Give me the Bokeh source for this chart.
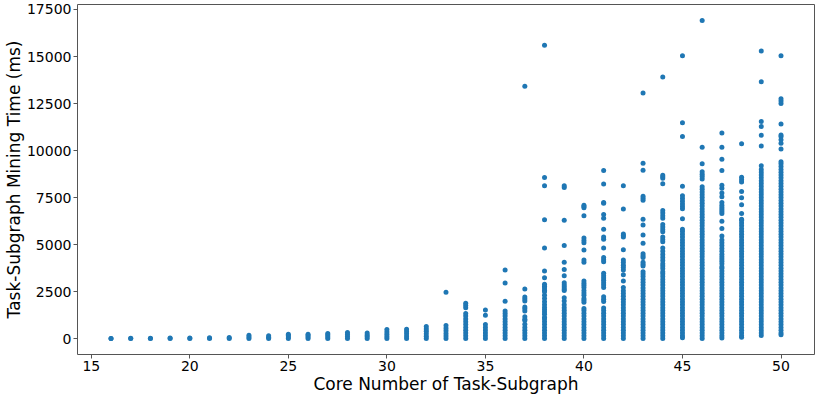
from bokeh.plotting import figure
from bokeh.models import FixedTicker, Range1d, ColumnDataSource
from bokeh.embed import file_html
from bokeh.resources import INLINE

# Task-subgraph mining time (ms) observed per core number
col_16 = [5, 15]
col_17 = [5, 20]
col_18 = [5, 25]
col_19 = [5, 30]
col_20 = [5, 35]
col_21 = [10, 45]
col_22 = [10, 60]
col_23 = [10, 90, 180]
col_24 = [10, 70, 150]
col_25 = [10, 90, 170, 235]
col_26 = [10, 90, 170, 235]
col_27 = [10, 100, 190, 270]
col_28 = [10, 110, 220, 335]
col_29 = [10, 110, 200, 300]
col_30 = [10, 120, 240, 360, 485]
col_31 = [10, 130, 260, 380, 500]
col_32 = [10, 130, 260, 390, 520, 650]
col_33 = [10, 140, 280, 420, 560, 700, 2470]
col_34 = [10, 150, 300, 450, 600, 750, 900, 1050, 1200, 1340, 1640, 1770, 1890]
col_35 = [10, 150, 300, 450, 600, 750, 1240, 1520]
col_36 = [10, 150, 300, 450, 600, 750, 900, 1050, 1200, 1340, 1470, 1990, 2960, 3645]
col_37 = [10, 150, 300, 450, 600, 770, 970, 1035, 1170, 1470, 1590, 1690, 2005,
          2105, 2220, 2640, 13420]
col_38 = [10, 150, 300, 450, 600, 750, 900, 1050, 1135, 1300, 1420, 1540, 1660, 1805,
          1970, 2140, 2305, 2490, 2570, 2690, 2790, 2895, 3245, 3595, 4815, 6320, 8125,
          8575, 15600]
col_39 = [10, 150, 300, 450, 600, 750, 900, 1050, 1200, 1350, 1500, 1650, 1800, 2005,
          2170, 2555, 2640, 2750, 2860, 2975, 3345, 3680, 4060, 4950, 6300, 8040, 8125]
col_40 = [10, 150, 300, 450, 600, 750, 900, 1050, 1200, 1350, 1500, 1600, 1940, 2040,
          2140, 2305, 2430, 2560, 2725, 2840, 2950, 3060, 4060, 4180, 4715, 5100, 5220,
          5350, 6540, 6960, 7030, 7090]
col_41 = [10, 150, 300, 450, 600, 750, 900, 1050, 1200, 1350, 1500, 1635, 1975, 2100,
          2225, 2725, 2850, 2975, 3100, 3225, 3350, 3475, 4095, 4200, 4310, 4815, 5280,
          5400, 5815, 6400, 6600, 7200, 7240, 8225, 8940]
col_42 = [10, 150, 300, 450, 600, 750, 900, 1050, 1200, 1350, 1500, 1650, 1800, 1950,
          2100, 2250, 2400, 2550, 2725, 3060, 3395, 3645, 3780, 3910, 4050, 4180, 4730,
          5400, 5480, 5565, 6890, 8125]
col_43 = [10, 150, 300, 450, 600, 750, 900, 1050, 1200, 1350, 1500, 1650, 1800, 1950,
          2100, 2250, 2400, 2550, 2700, 2850, 3000, 3140, 3310, 3435, 3560, 3860, 3960,
          4060, 4315, 4415, 4515, 5080, 5515, 6050, 6350, 7355, 7460, 7570, 8960, 9330,
          13055]
col_44 = [10, 150, 300, 450, 600, 750, 900, 1050, 1200, 1350, 1500, 1650, 1800, 1950,
          2100, 2250, 2400, 2550, 2700, 2850, 3000, 3150, 3300, 3450, 3560, 3730, 3860,
          3990, 4150, 4315, 4480, 4650, 4815, 5150, 5275, 5400, 5680, 5810, 5940, 6070,
          6400, 6540, 6680, 6820, 8240, 8525, 8610, 8690, 13910]
col_45 = [50, 150, 300, 450, 600, 750, 900, 1050, 1200, 1350, 1500, 1650, 1800, 1950,
          2100, 2250, 2400, 2550, 2700, 2850, 3000, 3150, 3300, 3450, 3600, 3750, 3900,
          4050, 4200, 4350, 4500, 4650, 4800, 4950, 5100, 5250, 5400, 5550, 5700, 5815,
          6370, 6905, 7030, 7160, 7300, 7450, 7600, 8110, 10750, 11485, 15045]
col_46 = [10, 150, 300, 450, 600, 750, 900, 1050, 1200, 1350, 1500, 1650, 1800, 1950,
          2100, 2250, 2400, 2550, 2700, 2850, 3000, 3150, 3300, 3450, 3600, 3750, 3900,
          4050, 4200, 4350, 4500, 4650, 4800, 4950, 5100, 5250, 5400, 5550, 5700, 5850,
          6000, 6150, 6300, 6450, 6600, 6750, 6900, 7050, 7200, 7350, 7500, 7650, 7800,
          7950, 8075, 8490, 8620, 8745, 8875, 9295, 10180, 16920]
col_47 = [30, 150, 300, 450, 600, 750, 900, 1050, 1200, 1350, 1500, 1650, 1800, 1950,
          2100, 2250, 2400, 2550, 2700, 2850, 3000, 3150, 3300, 3450, 3600, 3750, 3820,
          3990, 4120, 4240, 4360, 4490, 4650, 4800, 4950, 5100, 5250, 5455, 5860, 6240,
          6655, 6760, 6870, 6980, 7090, 7240, 7540, 7740, 7995, 8160, 8945, 9545, 10180,
          10930]
col_48 = [80, 150, 300, 450, 600, 750, 900, 1050, 1200, 1350, 1500, 1650, 1800, 1950,
          2100, 2250, 2400, 2550, 2700, 2850, 3000, 3150, 3300, 3450, 3600, 3750, 3900,
          4050, 4200, 4350, 4500, 4650, 4800, 4950, 5100, 5250, 5400, 5550, 5700, 5850,
          6000, 6150, 6300, 6355, 6655, 7125, 7490, 7825, 8330, 8450, 8585, 10360]
col_49 = [165, 300, 450, 600, 750, 900, 1050, 1200, 1350, 1500, 1650, 1800, 1950,
          2100, 2250, 2400, 2550, 2700, 2850, 3000, 3150, 3300, 3450, 3600, 3750, 3900,
          4050, 4200, 4350, 4500, 4650, 4800, 4950, 5100, 5250, 5400, 5550, 5700, 5850,
          6000, 6150, 6300, 6450, 6600, 6750, 6900, 7050, 7200, 7350, 7500, 7650, 7800,
          7950, 8100, 8250, 8400, 8550, 8700, 8850, 9000, 9195, 10245, 10815, 11285,
          11550, 13660, 15295]
col_50 = [215, 300, 450, 600, 750, 900, 1050, 1200, 1350, 1500, 1650, 1800, 1950,
          2100, 2250, 2400, 2550, 2700, 2850, 3000, 3150, 3300, 3450, 3600, 3750, 3900,
          4050, 4200, 4350, 4500, 4650, 4800, 4950, 5100, 5250, 5400, 5550, 5700, 5850,
          6000, 6150, 6300, 6450, 6600, 6750, 6900, 7050, 7200, 7350, 7500, 7650, 7800,
          7950, 8100, 8250, 8400, 8550, 8700, 8850, 9000, 9150, 9300, 9412, 10080, 10390,
          10580, 10745, 10830, 11415, 12500, 12640, 12750, 15045]

core_numbers = list(range(16, 51))
x_ticks = [15, 20, 25, 30, 35, 40, 45, 50]
y_ticks = [0, 2500, 5000, 7500, 10000, 12500, 15000, 17500]

columns = {k: globals()["col_%d" % k] for k in core_numbers}
xs, ys = [], []
for k in core_numbers:
    for v in columns[k]:
        xs.append(k)
        ys.append(v)
src = ColumnDataSource(data=dict(x=xs, y=ys))

ymax = max(ys)
ymin = min(ys)
xpad = (max(core_numbers) - min(core_numbers)) * 0.05
ypad = (ymax - ymin) * 0.05

p = figure(width=815, height=396, output_backend="svg", toolbar_location=None,
           x_range=Range1d(min(core_numbers) - xpad, max(core_numbers) + xpad),
           y_range=Range1d(ymin - ypad, ymax + ypad),
           min_border_left=0, min_border_right=1, min_border_top=4, min_border_bottom=0)
p.scatter("x", "y", source=src, size=5, color="#1f77b4", line_color=None)

p.xgrid.visible = False
p.ygrid.visible = False
p.outline_line_color = "#555555"
p.outline_line_width = 1
p.background_fill_color = "white"
p.border_fill_color = "white"

p.xaxis.ticker = FixedTicker(ticks=x_ticks)
p.yaxis.ticker = FixedTicker(ticks=y_ticks)
for ax in (p.xaxis[0], p.yaxis[0]):
    ax.axis_line_color = None
    ax.major_tick_in = 0
    ax.major_tick_out = 4
    ax.major_tick_line_color = "#555555"
    ax.minor_tick_line_color = None
    ax.major_label_text_font = "DejaVu Sans"
    ax.major_label_text_font_size = "14px"
    ax.major_label_text_color = "black"
    ax.axis_label_text_font = "DejaVu Sans"
    ax.axis_label_text_font_size = "17px"
    ax.axis_label_text_font_style = "normal"
    ax.axis_label_text_color = "black"
    ax.major_label_standoff = 2
    ax.axis_label_standoff = 0

p.xaxis.axis_label = "Core Number of Task-Subgraph"
p.yaxis.axis_label = "Task-Subgraph Mining Time (ms)"

open("out.html", "w").write(file_html(p, INLINE))
